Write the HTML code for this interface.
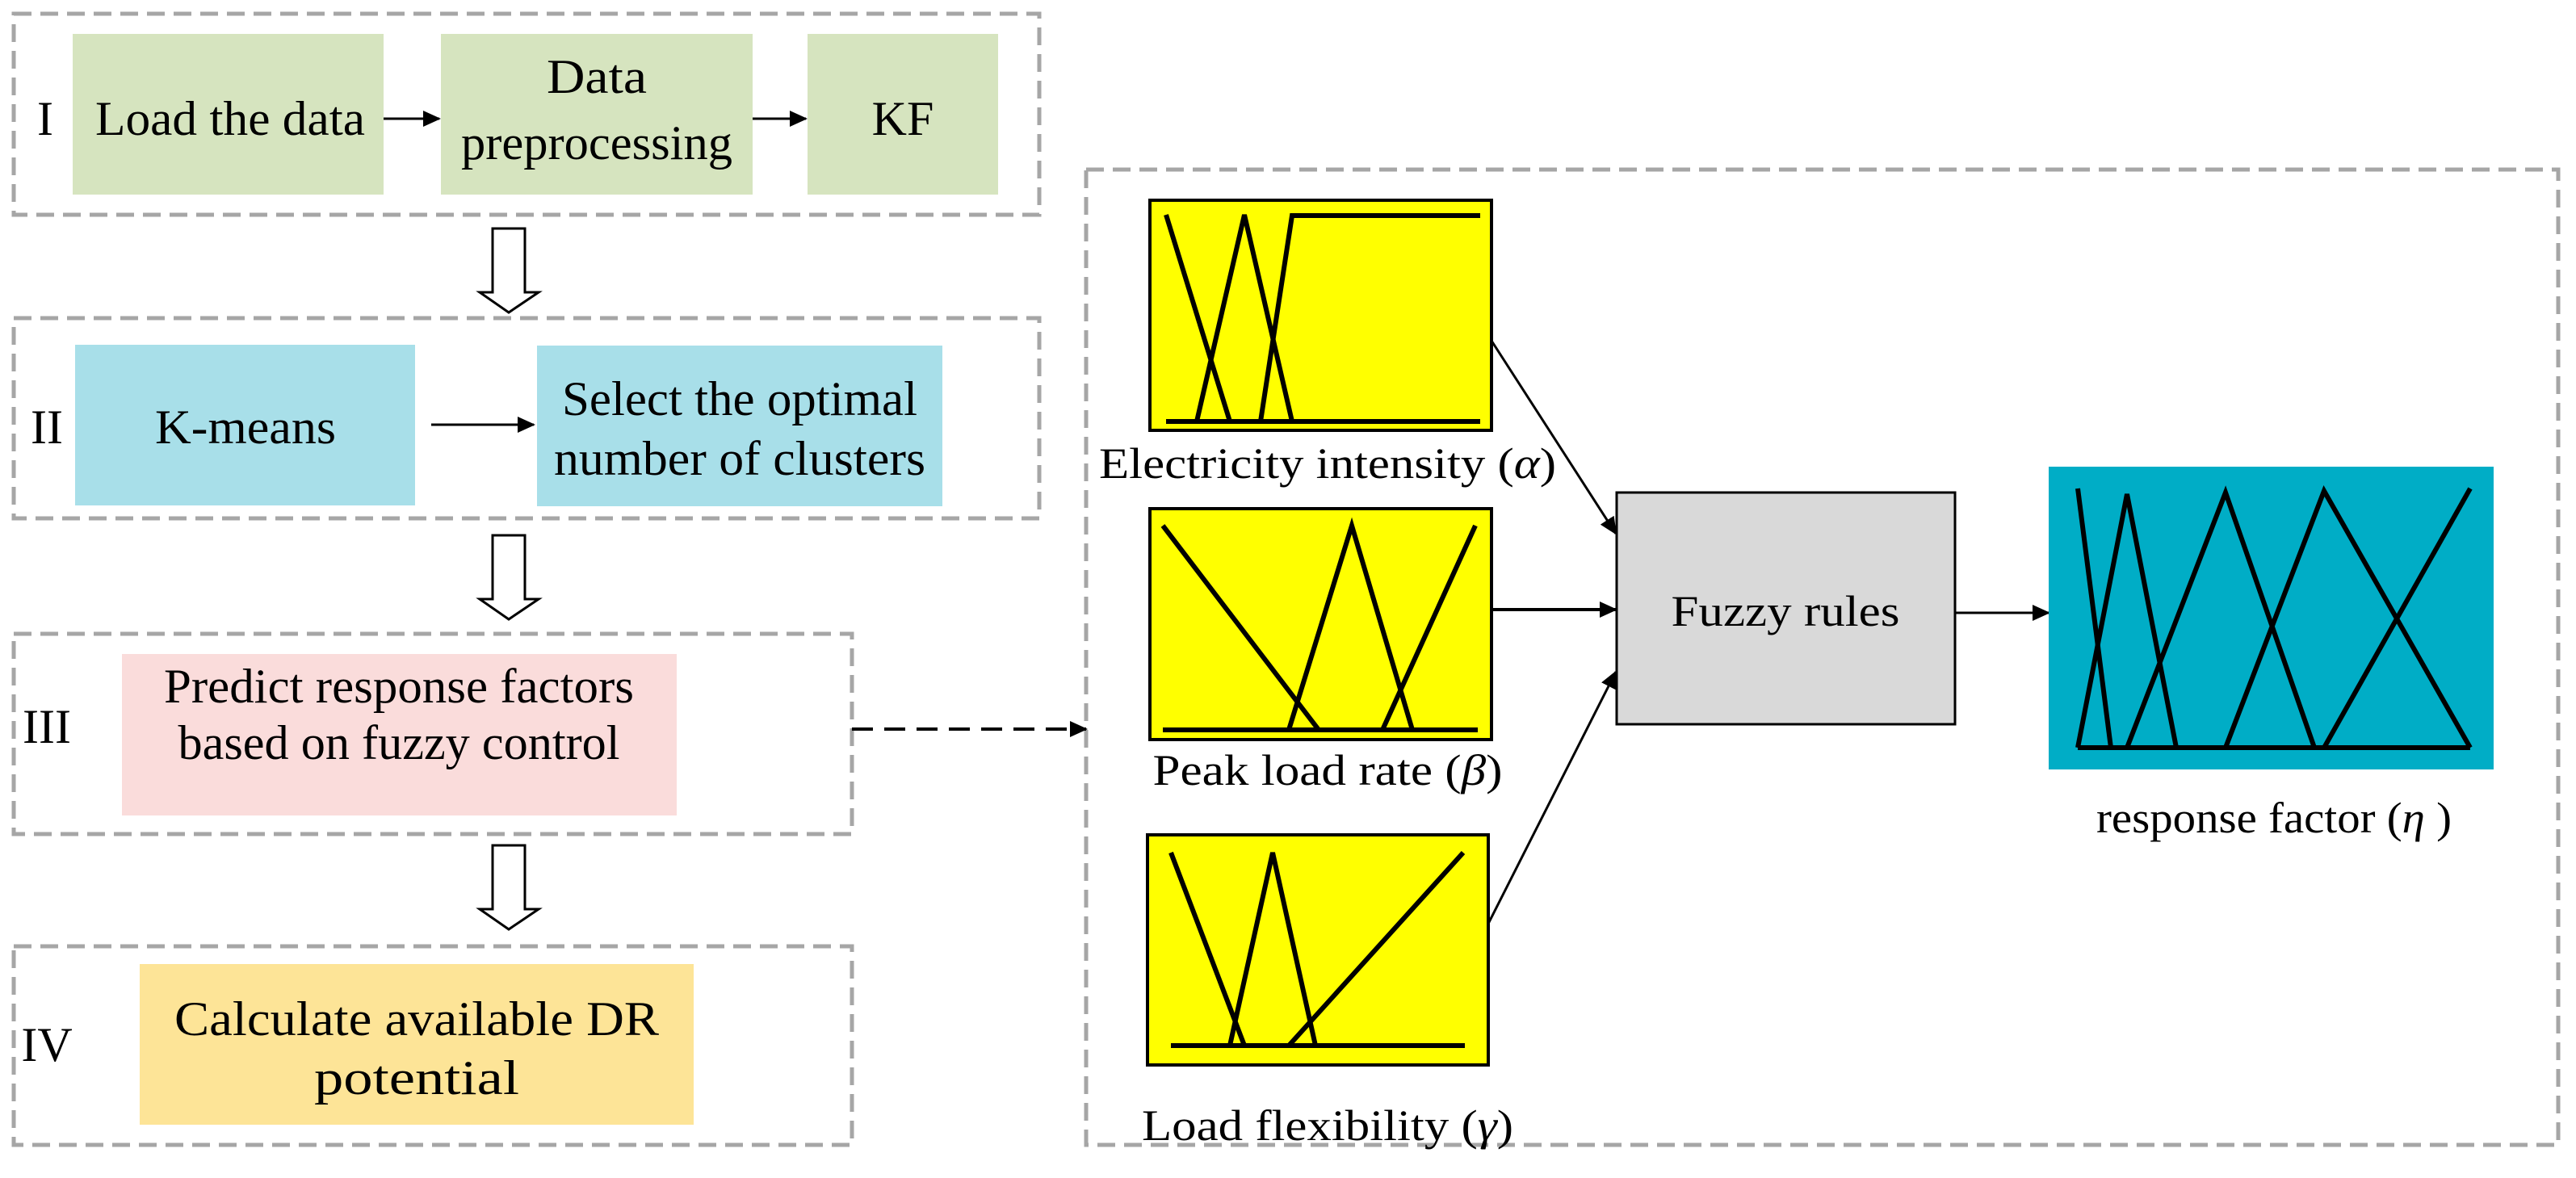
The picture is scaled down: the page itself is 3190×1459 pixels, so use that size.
<!DOCTYPE html>
<html><head><meta charset="utf-8"><style>html,body{margin:0;padding:0;background:#fff}svg{display:block}text{font-family:"Liberation Serif",serif}</style></head>
<body>
<svg width="3190" height="1459" viewBox="0 0 3190 1459" xmlns="http://www.w3.org/2000/svg">
<defs>
<marker id="ah2" markerWidth="22" markerHeight="20" refX="20" refY="10" orient="auto" markerUnits="userSpaceOnUse"><path d="M0,0 L22,10 L0,20 z" fill="#000"/></marker>
</defs>
<g fill="none" stroke="#a6a6a6" stroke-width="5" stroke-dasharray="22,11">
<rect x="17" y="17" width="1270" height="249"/>
<rect x="17" y="394" width="1270" height="248"/>
<rect x="17" y="785" width="1038" height="248"/>
<rect x="17" y="1172" width="1038" height="246"/>
<rect x="1345" y="210" width="1823" height="1208"/>
</g>
<rect x="90" y="42" width="385" height="199" fill="#d6e4bf"/>
<rect x="546" y="42" width="386" height="199" fill="#d6e4bf"/>
<rect x="1000" y="42" width="236" height="199" fill="#d6e4bf"/>
<rect x="93" y="427" width="421" height="199" fill="#a8dfe9"/>
<rect x="665" y="428" width="502" height="199" fill="#a8dfe9"/>
<rect x="151" y="810" width="687" height="200" fill="#fadcdb"/>
<rect x="173" y="1194" width="686" height="199" fill="#fde497"/>
<g font-size="60" text-anchor="middle" fill="#000">
<text x="56" y="167">I</text>
<text x="58" y="549">II</text>
<text x="58" y="920">III</text>
<text x="58" y="1314">IV</text>
<text x="285" y="167" textLength="334" lengthAdjust="spacingAndGlyphs">Load the data</text>
<text x="739" y="115" textLength="124" lengthAdjust="spacingAndGlyphs">Data</text>
<text x="739" y="197" textLength="336" lengthAdjust="spacingAndGlyphs">preprocessing</text>
<text x="1118" y="167">KF</text>
<text x="304" y="549" textLength="224" lengthAdjust="spacingAndGlyphs">K-means</text>
<text x="916" y="514" textLength="440" lengthAdjust="spacingAndGlyphs">Select the optimal</text>
<text x="916" y="588" textLength="460" lengthAdjust="spacingAndGlyphs">number of clusters</text>
<text x="494" y="870" textLength="582" lengthAdjust="spacingAndGlyphs">Predict response factors</text>
<text x="494" y="940" textLength="547" lengthAdjust="spacingAndGlyphs">based on fuzzy control</text>
<text x="516" y="1282" textLength="600" lengthAdjust="spacingAndGlyphs">Calculate available DR</text>
<text x="516" y="1355" textLength="254" lengthAdjust="spacingAndGlyphs">potential</text>
</g>
<g stroke="#000" stroke-width="3" fill="none">
<line x1="475" y1="147" x2="544" y2="147" marker-end="url(#ah2)"/>
<line x1="932" y1="147" x2="998" y2="147" marker-end="url(#ah2)"/>
<line x1="534" y1="526" x2="661" y2="526" marker-end="url(#ah2)"/>
<line x1="1055" y1="903" x2="1345" y2="903" stroke-dasharray="26,14" stroke-width="4" marker-end="url(#ah2)"/>
<line x1="1847" y1="422" x2="2001" y2="661" marker-end="url(#ah2)"/>
<line x1="1847" y1="755" x2="2001" y2="755" stroke-width="4" marker-end="url(#ah2)"/>
<line x1="1843" y1="1144" x2="2001" y2="832" marker-end="url(#ah2)"/>
<line x1="2421" y1="759" x2="2537" y2="759" marker-end="url(#ah2)"/>
</g>
<g fill="#fff" stroke="#000" stroke-width="3">
<path d="M610,283 H650 V362 H667 L630,387 L594,362 H610 Z"/>
<path d="M610,663 H650 V742 H667 L630,767 L594,742 H610 Z"/>
<path d="M610,1047 H650 V1126 H667 L630,1151 L594,1126 H610 Z"/>
</g>
<g stroke="#000" stroke-width="4">
<rect x="1424" y="248" width="423" height="285" fill="#ffff00"/>
<rect x="1424" y="630" width="423" height="286" fill="#ffff00"/>
<rect x="1421" y="1034" width="422" height="285" fill="#ffff00"/>
<rect x="2002" y="610" width="419" height="287" fill="#d9d9d9" stroke-width="3"/>
</g>
<rect x="2537" y="578" width="551" height="375" fill="#00adc6"/>
<g stroke="#000" stroke-width="6" fill="none">
<line x1="1444" y1="522" x2="1833" y2="522"/>
<polyline points="1444,266 1523,522"/>
<polyline points="1482,522 1541,266 1600,522"/>
<polyline points="1561,522 1600,267 1833,267"/>
<line x1="1440" y1="904" x2="1830" y2="904"/>
<polyline points="1440,651 1633,904"/>
<polyline points="1596,904 1674,651 1749,904"/>
<polyline points="1712,904 1827,651"/>
<line x1="1450" y1="1295" x2="1814" y2="1295"/>
<polyline points="1450,1056 1541,1295"/>
<polyline points="1523,1295 1576,1056 1629,1295"/>
<polyline points="1596,1295 1812,1056"/>
<line x1="2573" y1="926" x2="3059" y2="926"/>
<polyline points="2573,605 2614,926"/>
<polyline points="2573,926 2634,612 2695,926"/>
<polyline points="2634,926 2756,610 2866,926"/>
<polyline points="2756,926 2878,608 3059,926"/>
<polyline points="2878,926 3059,605"/>
</g>
<g font-size="54" text-anchor="middle" fill="#000">
<text x="1644" y="592" textLength="566" lengthAdjust="spacingAndGlyphs">Electricity intensity (<tspan font-style="italic">α</tspan>)</text>
<text x="1644" y="972" textLength="433" lengthAdjust="spacingAndGlyphs">Peak load rate (<tspan font-style="italic">β</tspan>)</text>
<text x="1644" y="1412" textLength="460" lengthAdjust="spacingAndGlyphs">Load flexibility (<tspan font-style="italic">γ</tspan>)</text>
<text x="2211" y="775" textLength="283" lengthAdjust="spacingAndGlyphs">Fuzzy rules</text>
<text x="2816" y="1031" textLength="440" lengthAdjust="spacingAndGlyphs">response factor  (<tspan font-style="italic">η</tspan> )</text>
</g>
</svg>
</body></html>
